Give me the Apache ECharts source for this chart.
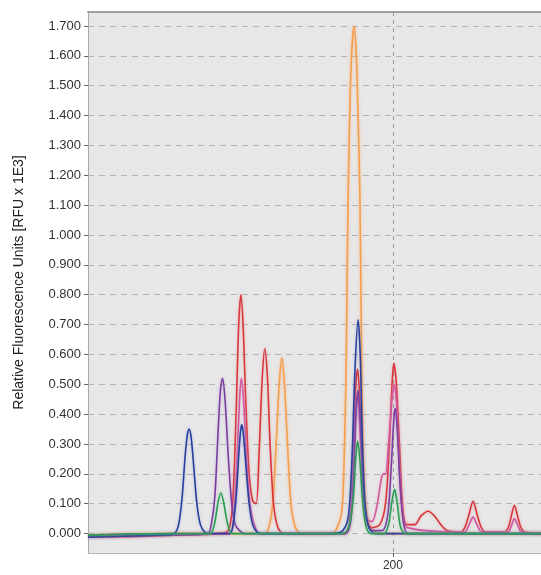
<!DOCTYPE html>
<html>
<head>
<meta charset="utf-8">
<script src="https://cdn.jsdelivr.net/npm/echarts@6/dist/echarts.min.js"></script>
<style>
html,body{margin:0;padding:0;background:#fff;}
#chart{width:541px;height:575px;}
</style>
</head>
<body>
<div id="chart"></div>
<script>
// Tick values
var yTicks = [0,0.1,0.2,0.3,0.4,0.5,0.6,0.7,0.8,0.9,1.0,1.1,1.2,1.3,1.4,1.5,1.6,1.7];
var xTicks = [200];
var yAxisName = 'Relative Fluorescence Units [RFU x 1E3]';

// Traces: [size, RFU x 1E3]
var orangeTrace = [[130,-0.005],[150,0.0],[170.5,0.0],[171.5,0.02],[172.4,0.1],[173.2,0.3],[173.9,0.5],[174.5,0.59],[175.1,0.5],[175.8,0.3],[176.6,0.1],[177.6,0.02],[179,0.0],[186,0.0],[187.2,0.02],[188.3,0.08],[188.9,0.3],[189.3,0.6],[189.6,1.0],[190.0,1.35],[190.5,1.6],[191.1,1.70],[191.6,1.6],[192.0,1.4],[192.4,1.15],[192.7,0.75],[193.0,0.4],[193.5,0.15],[194.3,0.04],[195.5,0.01],[197,0.0],[235,0.0]];

var redTrace = [[130,-0.012],[140,-0.01],[150,-0.005],[160,0.0],[162.2,0.01],[163.2,0.1],[164.0,0.4],[164.6,0.7],[165.1,0.80],[165.6,0.7],[166.2,0.45],[167.0,0.2],[167.8,0.11],[168.6,0.1],[169.3,0.28],[170.0,0.52],[170.6,0.62],[171.2,0.52],[171.8,0.3],[172.6,0.1],[173.6,0.02],[175,0.0],[189,0.0],[190.2,0.06],[191.0,0.3],[191.5,0.5],[191.9,0.55],[192.4,0.45],[193.0,0.22],[193.8,0.06],[195,0.02],[197.0,0.03],[198.3,0.1],[199.2,0.3],[199.8,0.5],[200.2,0.57],[200.8,0.5],[201.5,0.3],[202.3,0.08],[203.2,0.03],[205,0.03],[206.5,0.06],[208.1,0.075],[209.5,0.06],[211,0.03],[212.5,0.01],[215.5,0.005],[216.5,0.02],[217.4,0.06],[218.4,0.108],[219.4,0.06],[220.3,0.02],[221.3,0.005],[225.5,0.005],[226.5,0.02],[227.2,0.06],[227.9,0.095],[228.6,0.06],[229.4,0.02],[230.3,0.005],[235,0.0]];

var pinkTrace = [[130,-0.005],[150,0.0],[162.5,0.0],[163.4,0.05],[164.2,0.25],[164.8,0.45],[165.2,0.52],[165.7,0.45],[166.4,0.25],[167.2,0.1],[168.2,0.03],[169.5,0.0],[189,0.0],[190.2,0.05],[191.0,0.25],[191.5,0.42],[191.9,0.46],[192.4,0.36],[193.1,0.15],[194.0,0.05],[195.2,0.04],[196.3,0.09],[197.3,0.18],[197.8,0.2],[198.3,0.2],[199.0,0.3],[199.8,0.45],[200.3,0.5],[200.8,0.44],[201.5,0.22],[202.3,0.06],[203.3,0.02],[216.4,0.005],[217.5,0.03],[218.4,0.055],[219.3,0.03],[220.5,0.005],[226.4,0.005],[227.3,0.03],[227.9,0.05],[228.6,0.03],[229.6,0.005],[235,0.0]];

var purpleTrace = [[130,-0.01],[150,-0.005],[157.5,0.0],[158.3,0.03],[159.1,0.12],[159.8,0.32],[160.4,0.48],[160.9,0.52],[161.5,0.44],[162.2,0.26],[163.0,0.1],[163.8,0.03],[164.8,0.01],[166,0.0],[189,0.0],[190.3,0.04],[191.0,0.2],[191.6,0.42],[192.0,0.48],[192.5,0.38],[193.2,0.15],[194.0,0.04],[195.2,0.01],[197.5,0.01],[198.8,0.06],[199.6,0.22],[200.2,0.38],[200.5,0.42],[201.0,0.35],[201.7,0.15],[202.5,0.03],[203.5,0.0],[235,0.0]];

var blueTrace = [[130,-0.012],[140,-0.008],[148,-0.004],[149.8,0.0],[150.8,0.03],[151.6,0.12],[152.3,0.26],[152.8,0.33],[153.2,0.35],[153.7,0.32],[154.3,0.22],[155.0,0.1],[155.8,0.03],[156.8,0.005],[158,0.0],[162.5,0.0],[163.3,0.03],[164.0,0.12],[164.6,0.26],[165.0,0.34],[165.3,0.365],[165.7,0.33],[166.3,0.22],[167.0,0.1],[167.8,0.03],[168.8,0.005],[170,0.0],[186,0.0],[188.5,0.01],[189.8,0.06],[190.6,0.25],[191.3,0.55],[192.0,0.716],[192.5,0.6],[193.0,0.3],[193.6,0.1],[194.5,0.02],[196,0.0],[235,0.0]];

var greenTrace = [[130,-0.005],[150,0.0],[158.0,0.0],[159.0,0.03],[159.8,0.1],[160.5,0.137],[161.2,0.1],[162.1,0.03],[163.2,0.0],[188.5,0.0],[190.0,0.03],[190.9,0.12],[191.5,0.26],[191.9,0.31],[192.4,0.25],[193.1,0.1],[193.9,0.02],[195,0.0],[198.0,0.0],[199.0,0.03],[199.8,0.11],[200.4,0.148],[201.0,0.1],[201.8,0.02],[203,0.0],[235,0.0]];

var traces = [
  {name:'Orange', data: orangeTrace, color:'#f2a04e', glow:'rgba(255,170,110,0.8)'},
  {name:'Red', data: redTrace, color:'#d8363c', glow:'rgba(240,120,120,0.5)'},
  {name:'Pink', data: pinkTrace, color:'#d0589e', glow:'rgba(230,140,190,0.5)'},
  {name:'Purple', data: purpleTrace, color:'#7b3e9e', glow:'rgba(170,120,210,0.5)'},
  {name:'Blue', data: blueTrace, color:'#283f9c', glow:'rgba(120,140,220,0.5)'},
  {name:'Green', data: greenTrace, color:'#2e9a57', glow:'rgba(120,210,150,0.5)'}
];

var labelFont = 'Liberation Sans Narrow, Arial Narrow, Liberation Sans, sans-serif';
var chart = echarts.init(document.getElementById('chart'), null, {renderer:'canvas'});
var option = {
  animation: false,
  backgroundColor: '#ffffff',
  grid: {
    left: 88, top: 12, bottom: 22, right: 0,
    show: true, backgroundColor: '#e7e7e7', borderWidth: 0
  },
  xAxis: [{
    type: 'value', min: 130, max: 234,
    axisLine: {show: true, onZero: false, lineStyle: {color: '#b5b5b5'}},
    axisTick: {show: true, length: 4, customValues: xTicks, lineStyle: {color: '#555'}},
    axisLabel: {show: true, customValues: xTicks, color: '#333', fontSize: 12, fontFamily: labelFont, margin: 7},
    splitLine: {show: true, lineStyle: {color: '#9a9a9a', type: [4, 4], width: 1}}
  }, {
    type: 'value', min: 130, max: 234, position: 'top',
    axisLine: {show: true, onZero: false, lineStyle: {color: '#a0a0a0', width: 2}},
    axisTick: {show: false}, axisLabel: {show: false}, splitLine: {show: false}
  }],
  yAxis: {
    type: 'value', min: -0.065, max: 1.747,
    name: yAxisName, nameLocation: 'middle', nameRotate: 90, nameGap: 62,
    nameTextStyle: {color: '#222', fontSize: 14, fontFamily: labelFont},
    axisLine: {show: true, onZero: false, lineStyle: {color: '#a9a9a9'}},
    axisTick: {show: true, length: 4, customValues: yTicks, lineStyle: {color: '#666'}},
    axisLabel: {show: true, customValues: yTicks, color: '#333', fontSize: 13, margin: 7,
      fontFamily: labelFont,
      formatter: function (v) { return v.toFixed(3); }},
    splitLine: {show: true, lineStyle: {color: '#b3b3b3', type: [6, 5], width: 1}}
  },
  series: traces.map(function (t) {
    return {
      name: t.name, type: 'line', data: t.data, showSymbol: false, symbol: 'none',
      smooth: 0.3, clip: true, xAxisIndex: 0,
      lineStyle: {color: t.color, width: 1.6, shadowBlur: 3, shadowColor: t.glow}
    };
  })
};
chart.setOption(option);
</script>
</body>
</html>
